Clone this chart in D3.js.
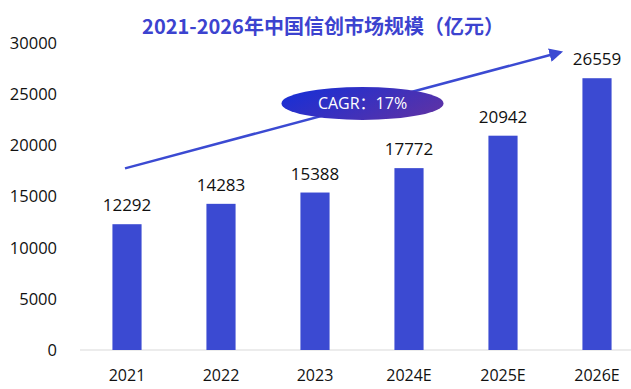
<!DOCTYPE html>
<html>
<head>
<meta charset="utf-8">
<script src="https://cdn.jsdelivr.net/npm/d3@7.9.0/dist/d3.min.js"></script>
<style>
  body { margin: 0; background: #fff; }
  text { font-family: "Open Sans", "Noto Sans CJK SC", sans-serif; }
</style>
</head>
<body>
<svg width="631" height="389"></svg>
<script>
const years = ['2021', '2022', '2023', '2024E', '2025E', '2026E'];
const marketSize = [12292, 14283, 15388, 17772, 20942, 26559];
const yTicks = [0, 5000, 10000, 15000, 20000, 25000, 30000];
const title = '2021-2026年中国信创市场规模（亿元）';
const cagrLabel = 'CAGR：17%';

const svg = d3.select('svg');
const barColor = '#3b4ad2';

let x = d3.scaleBand().domain(years).range([80, 644]).paddingInner(0.69).paddingOuter(0.345);
let y = d3.scaleLinear().domain([0, 30000]).range([350, 43]);

// gradient for the CAGR bubble
let defs = svg.append('defs');
let grad = defs.append('linearGradient').attr('id', 'cagr').attr('x1', 0).attr('x2', 1).attr('y1', 0.3).attr('y2', 0.7);
grad.append('stop').attr('offset', '0%').attr('stop-color', '#1a2fd4');
grad.append('stop').attr('offset', '100%').attr('stop-color', '#5c32a6');
defs.append('marker')
  .attr('id', 'arrow').attr('viewBox', '0 0 10 10').attr('refX', 8).attr('refY', 5)
  .attr('markerWidth', 5.5).attr('markerHeight', 5.5).attr('orient', 'auto')
  .append('path').attr('d', 'M0,0L10,5L0,10z').attr('fill', barColor);

svg.append('text')
  .attr('x', 323).attr('y', 34)
  .attr('text-anchor', 'middle')
  .attr('font-size', 20).attr('font-weight', 'bold')
  .attr('fill', '#3c43cf')
  .style('font-family', '"Noto Sans CJK SC", sans-serif')
  .text(title);

// y axis labels
svg.append('g').selectAll('text').data(yTicks).join('text')
  .attr('x', 57).attr('y', (d) => y(d))
  .attr('dy', '0.36em').attr('text-anchor', 'end')
  .attr('font-size', 16.5).attr('fill', '#111')
  .text((d) => d);

// baseline
svg.append('line')
  .attr('x1', 80).attr('x2', 631).attr('y1', y(0)).attr('y2', y(0))
  .attr('stroke', '#d9d9d9').attr('stroke-width', 1);

svg.append('g').selectAll('rect').data(marketSize).join('rect')
  .attr('x', (d, i) => x(years[i]))
  .attr('width', x.bandwidth())
  .attr('y', (d) => y(d))
  .attr('height', (d) => y(0) - y(d))
  .attr('fill', barColor);

svg.append('g').selectAll('text').data(marketSize).join('text')
  .attr('x', (d, i) => x(years[i]) + x.bandwidth() / 2)
  .attr('y', (d) => y(d) - 13)
  .attr('text-anchor', 'middle')
  .attr('font-size', 17).attr('fill', '#111')
  .text((d) => d);

svg.append('g').selectAll('text').data(years).join('text')
  .attr('x', (d) => x(d) + x.bandwidth() / 2)
  .attr('y', 381)
  .attr('text-anchor', 'middle')
  .attr('font-size', 16).attr('fill', '#111')
  .text((d) => d);

// growth arrow
let x0 = x(years[0]) + x.bandwidth() / 2 - 2;
let x1 = x(years[5]) - 22;
svg.append('line')
  .attr('x1', x0).attr('y1', y(17750))
  .attr('x2', x1).attr('y2', y(29100))
  .attr('stroke', barColor).attr('stroke-width', 2.5)
  .attr('marker-end', 'url(#arrow)');

let cx = (x(years[2]) + x(years[3])) / 2 + x.bandwidth() / 2 + 0.5;
svg.append('ellipse')
  .attr('cx', cx).attr('cy', y(24100))
  .attr('rx', 81).attr('ry', 16.5)
  .attr('fill', 'url(#cagr)');
svg.append('text')
  .attr('x', cx).attr('y', y(24100))
  .attr('dy', '0.36em').attr('text-anchor', 'middle')
  .attr('font-size', 16).attr('fill', '#fff')
  .text(cagrLabel);
</script>
</body>
</html>
